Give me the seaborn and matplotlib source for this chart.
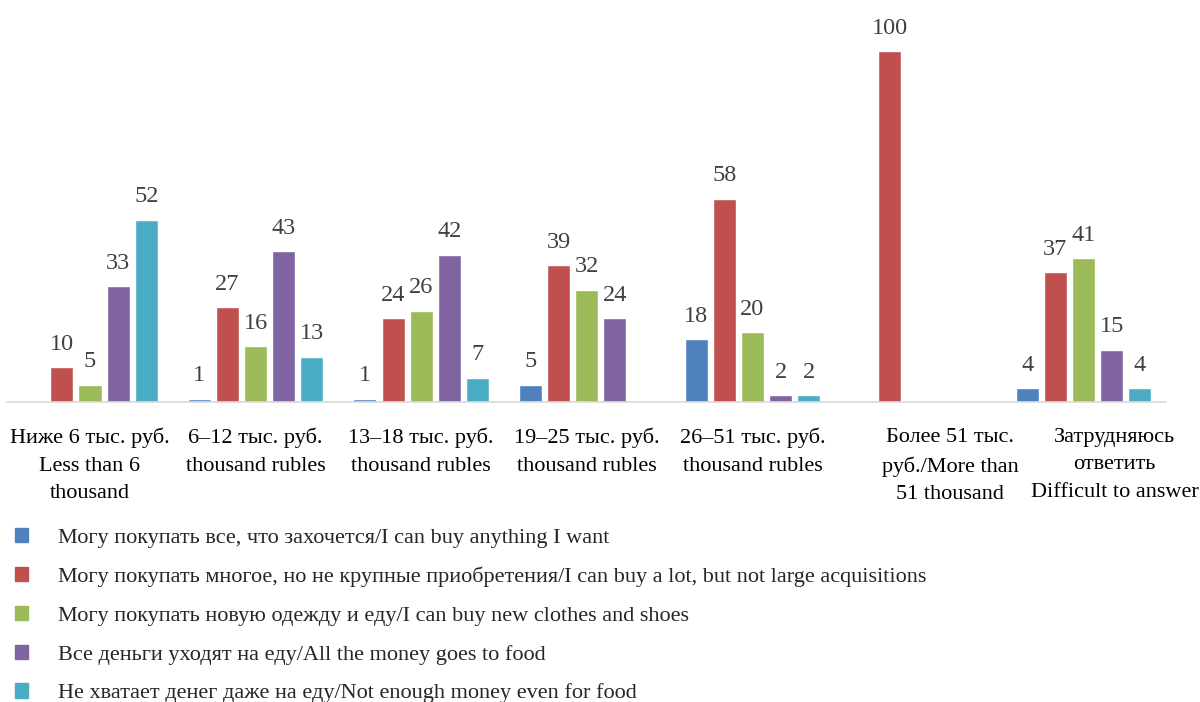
import numpy as np
import pandas as pd
import matplotlib
matplotlib.use("Agg")
import matplotlib.pyplot as plt
import matplotlib.transforms as mtransforms
import seaborn as sns

categories = [
    "Ниже 6 тыс. руб.\nLess than 6\nthousand",
    "6–12 тыс. руб.\nthousand rubles",
    "13–18 тыс. руб.\nthousand rubles",
    "19–25 тыс. руб.\nthousand rubles",
    "26–51 тыс. руб.\nthousand rubles",
    "Более 51 тыс.\nруб./More than\n51 thousand",
    "Затрудняюсь\nответить\nDifficult to answer",
]
series = [
    "Могу покупать все, что захочется/I can buy anything I want",
    "Могу покупать многое, но не крупные приобретения/I can buy a lot, but not large acquisitions",
    "Могу покупать новую одежду и еду/I can buy new clothes and shoes",
    "Все деньги уходят на еду/All the money goes to food",
    "Не хватает денег даже на еду/Not enough money even for food",
]
can_buy_anything = [np.nan, 1, 1, 5, 18, np.nan, 4]
can_buy_a_lot = [10, 27, 24, 39, 58, 100, 37]
new_clothes = [5, 16, 26, 32, 20, np.nan, 41]
money_to_food = [33, 43, 42, 24, 2, np.nan, 15]
not_enough = [52, 13, 7, np.nan, 2, np.nan, 4]
colors = ["#4F81BD", "#C0504D", "#9BBB59", "#8064A2", "#4BACC6"]

values = [can_buy_anything, can_buy_a_lot, new_clothes, money_to_food, not_enough]
rows = []
for s, vals in zip(series, values):
    for c, v in zip(categories, vals):
        rows.append({"category": c, "answer": s, "value": v})
df = pd.DataFrame(rows).dropna()

sns.set_style("white")
plt.rcParams["font.family"] = ["Liberation Serif", "DejaVu Serif"]

fig = plt.figure(figsize=(12, 7.02), dpi=100)
ax = fig.add_axes([0.006, 0.427, 0.966, 0.55])

sns.barplot(data=df, x="category", y="value", hue="answer",
            order=categories, hue_order=series, palette=colors,
            width=0.85, gap=0.18, errorbar=None, ax=ax, saturation=1)

for cont in ax.containers:
    ax.bar_label(cont, fmt="{:.0f}", padding=9, fontsize=17.5, color="#404040")

ax.set_ylim(0, 110)
ax.set_xlim(-0.5, len(categories) - 0.5)
ax.set_xlabel("")
ax.set_ylabel("")
ax.set_yticks([])
for side in ["top", "right", "left"]:
    ax.spines[side].set_visible(False)
ax.spines["bottom"].set_color("#D9D9D9")
ax.spines["bottom"].set_linewidth(1.2)
ax.set_xticks(range(len(categories)))
ax.set_xticklabels(categories)
ax.tick_params(axis="x", length=0, pad=18.5, labelsize=16, labelcolor="black")

# Excel pushes the last two wrapped labels to the right
fig.canvas.draw()
labels = ax.get_xticklabels()
for lab in labels:
    lab.set_linespacing(1.6)
for lab, dx in zip(labels[-2:], [32, 31]):
    lab.set_transform(lab.get_transform() + mtransforms.ScaledTranslation(dx / 100, 0, fig.dpi_scale_trans))

ax.legend_.remove()
handles = [plt.Rectangle((0, 0), 1, 1, color=c) for c in colors]
fig.legend(handles, series, loc="upper left", bbox_to_anchor=(0.005, 0.261),
           frameon=False, fontsize=16, handlelength=0.6, handleheight=0.6,
           handletextpad=1.35, labelspacing=0.85, borderaxespad=0)

fig.savefig("out.png", dpi=100)
